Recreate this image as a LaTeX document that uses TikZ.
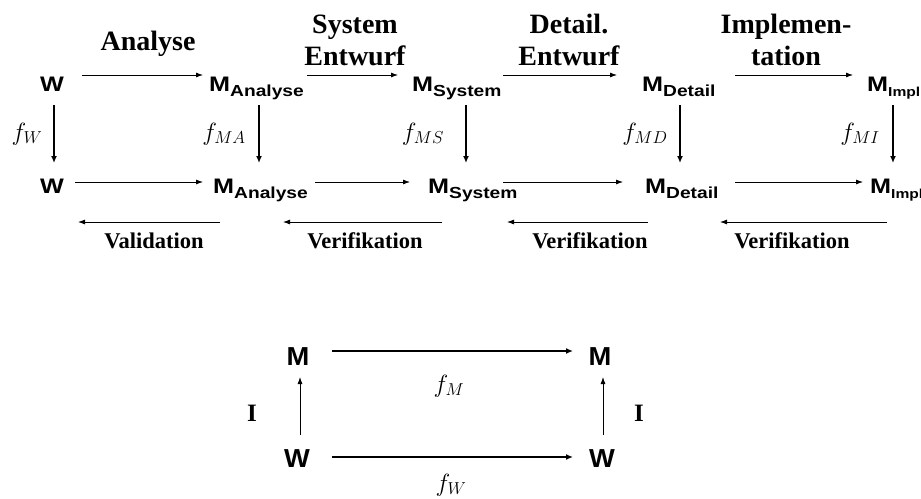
\documentclass[tikz,border=0pt]{standalone}
\usepackage{fontspec}
\usepackage{graphicx}
\setmainfont{Liberation Serif}
\setsansfont{Liberation Sans}
\usetikzlibrary{arrows.meta}
\newcommand\MX[2][16]{\scalebox{1.2}[1]{\fontsize{21}{21}\selectfont\sffamily\bfseries M\raisebox{-5pt}{\fontsize{#1}{#1}\selectfont #2}}}
\newcommand\WX{\scalebox{1.2}[1]{\fontsize{21}{21}\selectfont\sffamily\bfseries W}}
\newcommand\BX[1]{\scalebox{1.05}[1]{\fontsize{26}{26}\selectfont\sffamily\bfseries #1}}
\tikzset{
  thinarr/.style={line width=0.8pt,-{Latex[length=7pt,width=5pt]}},
  thickarr/.style={line width=1.8pt,-{Latex[length=7pt,width=6pt]}},
  thickarrb/.style={line width=2.2pt,-{Latex[length=7pt,width=6pt]}},
  sfnode/.style={inner sep=0pt,anchor=base west},
  bnode/.style={inner sep=0pt,anchor=base},
  phase/.style={inner sep=0pt,anchor=base,align=center,font=\fontsize{28}{32}\selectfont\bfseries},
  check/.style={inner sep=0pt,anchor=base,font=\fontsize{22.5}{24}\selectfont\bfseries},
  fl/.style={inner sep=0pt,anchor=center,font=\fontsize{24}{26}\selectfont},
  il/.style={inner sep=0pt,anchor=center,font=\fontsize{25}{26}\selectfont\bfseries}
}
\begin{document}
\begin{tikzpicture}[x=1pt,y=-1pt]
\useasboundingbox (0,0) rectangle (921,498);
% top row
\node[sfnode] (W1) at (40,91) {\WX};
\node[sfnode] (MA1) at (209,91) {\MX{Analyse}};
\node[sfnode] (MS1) at (412,91) {\MX{System}};
\node[sfnode] (MD1) at (642,91) {\MX{Detail}};
\node[sfnode] (MI1) at (867,91) {\MX[13]{Impl}};
% second row
\node[sfnode] (W2) at (40,193) {\WX};
\node[sfnode] (MA2) at (213,193) {\MX{Analyse}};
\node[sfnode] (MS2) at (428,193) {\MX{System}};
\node[sfnode] (MD2) at (645,193) {\MX{Detail}};
\node[sfnode] (MI2) at (870,193) {\MX[13]{Impl}};
% phase labels
\node[phase] (pA) at (148,50) {Analyse};
\node[phase] (pS) at (355,65) {System\\Entwurf};
\node[phase] (pD) at (569,65) {Detail.\\Entwurf};
\node[phase] (pI) at (786,65) {Implemen-\\tation};
% top arrows
\draw[thinarr] ([xshift=42pt,yshift=16pt]W1.base west) -- ([xshift=-6pt,yshift=16pt]MA1.base west);
\draw[thinarr] ([xshift=98pt,yshift=16pt]MA1.base west) -- ([xshift=-14pt,yshift=16pt]MS1.base west);
\draw[thinarr] ([xshift=91pt,yshift=16pt]MS1.base west) -- ([xshift=-25pt,yshift=16pt]MD1.base west);
\draw[thinarr] ([xshift=93pt,yshift=16pt]MD1.base west) -- ([xshift=-14pt,yshift=16pt]MI1.base west);
% second row arrows
\draw[thinarr] ([xshift=35pt,yshift=11pt]W2.base west) -- ([xshift=-10pt,yshift=11pt]MA2.base west);
\draw[thinarr] ([xshift=102pt,yshift=11pt]MA2.base west) -- ([xshift=-18pt,yshift=11pt]MS2.base west);
\draw[thinarr] ([xshift=75pt,yshift=11pt]MS2.base west) -- ([xshift=-22pt,yshift=11pt]MD2.base west);
\draw[thinarr] ([xshift=90pt,yshift=11pt]MD2.base west) -- ([xshift=-7pt,yshift=11pt]MI2.base west);
% vertical arrows
\draw[thickarr] ([xshift=14pt,yshift=-14pt]W1.base west) -- ([xshift=14pt,yshift=30pt]W2.base west);
\draw[thickarr] ([xshift=50pt,yshift=-14pt]MA1.base west) -- ([xshift=46pt,yshift=30pt]MA2.base west);
\draw[thickarr] ([xshift=54pt,yshift=-14pt]MS1.base west) -- ([xshift=38pt,yshift=30pt]MS2.base west);
\draw[thickarr] ([xshift=38pt,yshift=-14pt]MD1.base west) -- ([xshift=35pt,yshift=30pt]MD2.base west);
\draw[thickarr] ([xshift=26pt,yshift=-14pt]MI1.base west) -- ([xshift=23pt,yshift=30pt]MI2.base west);
% f labels
\node[fl] (fW) at (27,134) {$f_{W}$};
\node[fl] (fMA) at (224,134) {$f_{MA}$};
\node[fl] (fMS) at (423,134) {$f_{MS}$};
\node[fl] (fMD) at (645,134) {$f_{MD}$};
\node[fl] (fMI) at (860,134) {$f_{MI}$};
% third row
\node[check] (v0) at (154,248) {Validation};
\node[check] (v1) at (365,248) {Verifikation};
\node[check] (v2) at (590,248) {Verifikation};
\node[check] (v3) at (792,248) {Verifikation};
\draw[thinarr] ([xshift=66pt,yshift=26pt]v0.base) -- ([xshift=-76pt,yshift=26pt]v0.base);
\draw[thinarr] ([xshift=77pt,yshift=26pt]v1.base) -- ([xshift=-82pt,yshift=26pt]v1.base);
\draw[thinarr] ([xshift=58pt,yshift=26pt]v2.base) -- ([xshift=-83pt,yshift=26pt]v2.base);
\draw[thinarr] ([xshift=95pt,yshift=26pt]v3.base) -- ([xshift=-72pt,yshift=26pt]v3.base);
% bottom diagram
\node[bnode] (Mb1) at (298,365) {\BX{M}};
\node[bnode] (Mb2) at (600,365) {\BX{M}};
\node[bnode] (Wb1) at (297,467) {\BX{W}};
\node[bnode] (Wb2) at (602,467) {\BX{W}};
\draw[thickarrb] ([xshift=34pt,yshift=14pt]Mb1.base) -- ([xshift=-27pt,yshift=14pt]Mb2.base);
\draw[thickarrb] ([xshift=35pt,yshift=10pt]Wb1.base) -- ([xshift=-29pt,yshift=10pt]Wb2.base);
\draw[thinarr] ([xshift=3pt,yshift=32pt]Wb1.base) -- ([xshift=2pt,yshift=-12pt]Mb1.base);
\draw[thinarr] ([xshift=1pt,yshift=32pt]Wb2.base) -- ([xshift=3pt,yshift=-12pt]Mb2.base);
\node[fl] (fM) at (449,386) {$f_{M}$};
\node[fl] (fWb) at (451,485) {$f_{W}$};
\node[il] (I1) at (252,413) {I};
\node[il] (I2) at (639,413) {I};
\end{tikzpicture}
\end{document}
